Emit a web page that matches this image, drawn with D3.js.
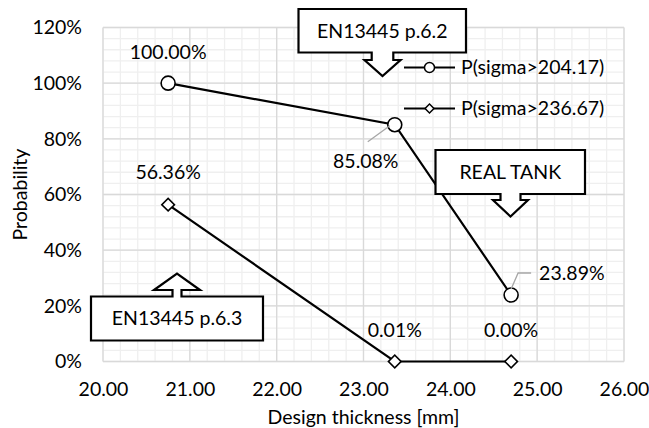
<!DOCTYPE html>
<html><head><meta charset="utf-8">
<script src="https://cdn.jsdelivr.net/npm/d3@7"></script>
<style>body{margin:0;background:#fff}svg text{font-family:Lato,"Open Sans",sans-serif;fill:#000}</style>
</head><body><svg id="c" width="649" height="428"></svg>
<script>
const thickness = [20.75, 23.36, 24.70];
const p204 = [1.0, 0.8508, 0.2389];
const p236 = [0.5636, 0.0001, 0.0];
const labels204 = ["100.00%", "85.08%", "23.89%"];
const labels236 = ["56.36%", "0.01%", "0.00%"];
const seriesNames = ["P(sigma>204.17)", "P(sigma>236.67)"];
const xTicks = [20, 21, 22, 23, 24, 25, 26];
const yTicks = [0, 0.2, 0.4, 0.6, 0.8, 1.0, 1.2];

const svg = d3.select("#c");
const x = d3.scaleLinear([20, 26], [103, 624]);
const y = d3.scaleLinear([0, 1.2], [361.5, 27.5]);
const fs = 19.5;

// minor grid
const g = svg.append("g");
g.selectAll(".mx").data(d3.range(20, 26.001, 0.2)).join("line")
  .attr("x1", d => x(d)).attr("x2", d => x(d)).attr("y1", y(0)).attr("y2", y(1.2))
  .attr("stroke", "#efefef").attr("stroke-width", 1.3);
g.selectAll(".my").data(d3.range(0, 1.2001, 0.04)).join("line")
  .attr("y1", d => y(d)).attr("y2", d => y(d)).attr("x1", x(20)).attr("x2", x(26))
  .attr("stroke", "#efefef").attr("stroke-width", 1.3);
// major grid
g.selectAll(".Mx").data(xTicks).join("line")
  .attr("x1", d => x(d)).attr("x2", d => x(d)).attr("y1", y(0)).attr("y2", y(1.2))
  .attr("stroke", "#d9d9d9").attr("stroke-width", 1.3);
g.selectAll(".My").data(yTicks).join("line")
  .attr("y1", d => y(d)).attr("y2", d => y(d)).attr("x1", x(20)).attr("x2", x(26))
  .attr("stroke", "#d9d9d9").attr("stroke-width", 1.3);

// axes
const xa = svg.append("g").attr("transform", `translate(0,${y(0)})`)
  .call(d3.axisBottom(x).tickValues(xTicks).tickFormat(d3.format(".2f")).tickSize(0).tickPadding(21));
const ya = svg.append("g").attr("transform", `translate(${x(20)},0)`)
  .call(d3.axisLeft(y).tickValues(yTicks).tickFormat(d3.format(".0%")).tickSize(0).tickPadding(21));
[xa, ya].forEach(a => { a.select(".domain").remove(); a.selectAll("text").attr("font-size", fs).attr("font-family", "Lato"); });

svg.append("text").attr("x", x(23)).attr("y", 417).attr("dy", "0.35em").attr("text-anchor", "middle").attr("font-size", fs).text("Design thickness [mm]");
svg.append("text").attr("transform", `translate(20,${y(0.6)}) rotate(-90)`).attr("dy", "0.35em").attr("text-anchor", "middle").attr("font-size", fs).text("Probability");

// series
const line = d3.line().x(d => x(d[0])).y(d => y(d[1]));
const s1 = thickness.map((t, i) => [t, p204[i]]);
const s2 = thickness.map((t, i) => [t, p236[i]]);
svg.append("path").attr("d", line(s1)).attr("fill", "none").attr("stroke", "#000").attr("stroke-width", 2.2);
svg.append("path").attr("d", line(s2)).attr("fill", "none").attr("stroke", "#000").attr("stroke-width", 2.2);
const diamond = d3.symbol().type(d3.symbolSquare).size(80);
svg.selectAll(".c1").data(s1).join("circle").attr("cx", d => x(d[0])).attr("cy", d => y(d[1])).attr("r", 7)
  .attr("fill", "#fff").attr("stroke", "#000").attr("stroke-width", 1.6);
svg.selectAll(".d2").data(s2).join("path").attr("d", diamond)
  .attr("transform", d => `translate(${x(d[0])},${y(d[1])}) rotate(45)`)
  .attr("fill", "#fff").attr("stroke", "#000").attr("stroke-width", 1.6);

// data labels
function lab(tx, ty, t, anchor) {
  svg.append("text").attr("x", tx).attr("y", ty).attr("dy", "0.35em").attr("text-anchor", anchor || "middle").attr("font-size", fs).text(t);
}
lab(x(thickness[0]), y(p204[0]) - 31, labels204[0]);
lab(x(thickness[1]) - 29, y(p204[1]) + 36, labels204[1]);
lab(x(thickness[2]) + 28, y(p204[2]) - 22, labels204[2], "start");
lab(x(thickness[0]), y(p236[0]) - 32, labels236[0]);
lab(x(thickness[1]), y(p236[1]) - 31, labels236[1]);
lab(x(thickness[2]), y(p236[2]) - 31, labels236[2]);
// leader lines
svg.append("line").attr("x1", x(thickness[1]) - 27).attr("y1", y(p204[1]) + 17).attr("x2", x(thickness[1]) - 5).attr("y2", y(p204[1]) + 1)
  .attr("stroke", "#a6a6a6").attr("stroke-width", 1.3);
svg.append("path").attr("d", `M${x(thickness[2])},${y(p204[2]) - 6}L${x(thickness[2]) + 7},${y(p204[2]) - 22}H${x(thickness[2]) + 20}`)
  .attr("fill", "none").attr("stroke", "#a6a6a6").attr("stroke-width", 1.3);

// legend
const legY = [67.5, 108.5];
seriesNames.forEach((n, i) => {
  const lg = svg.append("g");
  lg.append("line").attr("x1", 404).attr("x2", 455).attr("y1", legY[i]).attr("y2", legY[i]).attr("stroke", "#000").attr("stroke-width", 2.2);
  if (i === 0) lg.append("circle").attr("cx", 429.5).attr("cy", legY[i]).attr("r", 5).attr("fill", "#fff").attr("stroke", "#000").attr("stroke-width", 1.5);
  else lg.append("path").attr("d", d3.symbol().type(d3.symbolSquare).size(40)).attr("transform", `translate(429.5,${legY[i]}) rotate(45)`)
    .attr("fill", "#fff").attr("stroke", "#000").attr("stroke-width", 1.5);
  lg.append("text").attr("x", 461).attr("y", legY[i]).attr("dy", "0.35em").attr("font-size", fs).text(n);
});

// callouts
function callout(b, cx, sw, hw, yb, tip, text) {
  const [x0, y0, x1, y1] = b;
  let d;
  if (tip > y1) d = `M${x0},${y0}H${x1}V${y1}H${cx + sw}V${yb}H${cx + hw}L${cx},${tip}L${cx - hw},${yb}H${cx - sw}V${y1}H${x0}Z`;
  else d = `M${x0},${y1}H${x1}V${y0}H${cx + sw}V${yb}H${cx + hw}L${cx},${tip}L${cx - hw},${yb}H${cx - sw}V${y0}H${x0}Z`;
  svg.append("path").attr("d", d).attr("fill", "#fff").attr("stroke", "#000").attr("stroke-width", 2.2).attr("stroke-linejoin", "miter");
  svg.append("text").attr("x", (x0 + x1) / 2).attr("y", (y0 + y1) / 2).attr("dy", "0.35em").attr("text-anchor", "middle").attr("font-size", fs).text(text);
}
callout([298.5, 9, 466, 52.5], 382.5, 10.8, 18, 60, 76, "EN13445 p.6.2");
callout([435.5, 150, 585, 194], 510.5, 10, 17.5, 200, 216.5, "REAL TANK");
callout([91, 296.5, 263, 340.5], 177, 4.5, 23, 290, 273.5, "EN13445 p.6.3");
</script></body></html>
